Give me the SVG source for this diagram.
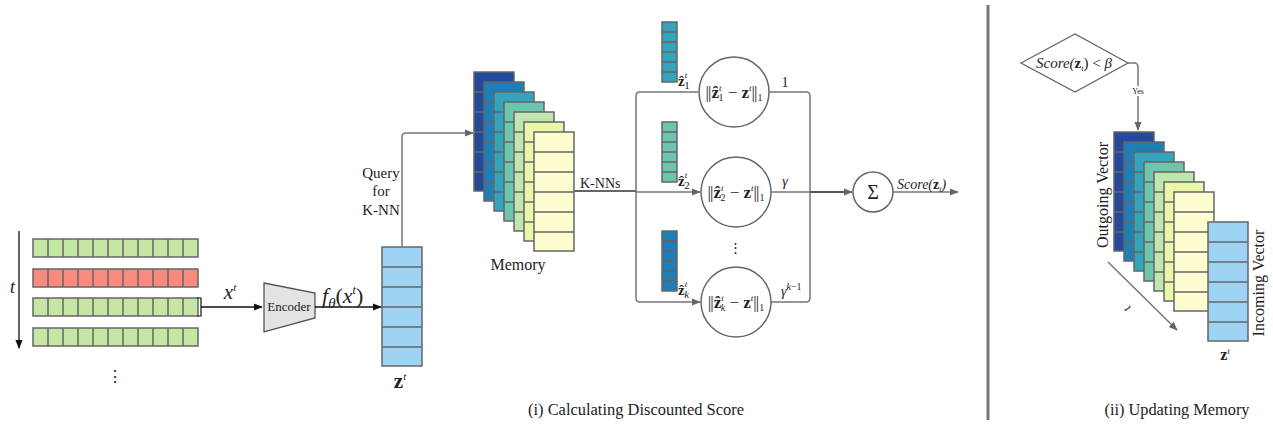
<svg xmlns="http://www.w3.org/2000/svg" width="1273" height="425" viewBox="0 0 1273 425" font-family="'Liberation Serif','DejaVu Serif',serif">
<style>
.cell{stroke:#666;stroke-width:1.5}
.g{fill:#c6e6a6}.r{fill:#f88b7d}.q{fill:#9dd3f3}
.c1{fill:#234b99}.c2{fill:#1e7fb7}.c3{fill:#34a4bd}.c4{fill:#6ec5ae}.c5{fill:#bfe5b1}.c6{fill:#ebf7a8}.c7{fill:#fefdd0}
.ln{fill:none;stroke:#777;stroke-width:1.5}
.bk{fill:none;stroke:#111;stroke-width:1.3}
.ser{font-family:"Liberation Serif","DejaVu Serif",serif;fill:#222}
.it{font-style:italic}
.bd{font-weight:bold}
.circ{fill:#fff;stroke:#666;stroke-width:1.5}
</style>
<defs>
<marker id="ag" viewBox="0 0 10 10" refX="9" refY="5" markerWidth="9" markerHeight="9" markerUnits="userSpaceOnUse" orient="auto"><path d="M0,1 L10,5 L0,9 z" fill="#666"/></marker>
<marker id="ab" viewBox="0 0 10 10" refX="9" refY="5" markerWidth="9" markerHeight="9" markerUnits="userSpaceOnUse" orient="auto"><path d="M0,1 L10,5 L0,9 z" fill="#111"/></marker>
<path id="rowlines" d="M0,0 h165 v18 h-165 z M15,0 v18 M30,0 v18 M45,0 v18 M60,0 v18 M75,0 v18 M90,0 v18 M105,0 v18 M120,0 v18 M135,0 v18 M150,0 v18" fill="none" stroke="#666" stroke-width="1.5"/>
<path id="veclines" d="M0,0 h40 v119 h-40 z M0,20 h40 M0,40 h40 M0,60 h40 M0,80 h40 M0,100 h40" fill="none" stroke="#666" stroke-width="1.5"/>
<path id="smalllines" d="M0,0 h15 v60 h-15 z M0,10 h15 M0,20 h15 M0,30 h15 M0,40 h15 M0,50 h15" fill="none" stroke="#666" stroke-width="1.5"/>
</defs>

<!-- time series -->
<g id="timeseries">
<path d="M19,231 V348" class="bk" marker-end="url(#ab)"/>
<text x="10" y="293" class="ser it" font-size="18">t</text>
<g id="row1" transform="translate(33,239)"><rect width="165" height="18" class="g"/><use href="#rowlines"/></g>
<g id="row2" transform="translate(33,269)"><rect width="165" height="18" class="r"/><use href="#rowlines"/></g>
<g id="row3" transform="translate(33,298)"><rect width="165" height="18" class="g"/><use href="#rowlines"/></g>
<g id="row4" transform="translate(33,328)"><rect width="165" height="18" class="g"/><use href="#rowlines"/></g>
<text x="115" y="382" class="ser" font-size="16" text-anchor="middle">⋮</text>
</g>

<!-- encoder -->
<g id="encoder">
<path d="M264,283 L315,293 L315,318 L264,332 Z" fill="#e3e3e3" stroke="#555" stroke-width="1.3"/>
<text x="289" y="311" class="ser" font-size="13" text-anchor="middle">Encoder</text>
</g>

<!-- query vector -->
<g id="query">
<g transform="translate(382,247)"><rect width="40" height="119" class="q"/><use href="#veclines"/></g>
<text x="400" y="388" class="ser bd" font-size="21" text-anchor="middle">z<tspan dy="-8" font-size="11" font-weight="normal" font-style="italic">t</tspan></text>
</g>

<!-- memory -->
<g id="memory">
<g transform="translate(474,72)"><rect width="40" height="119" class="c1"/><use href="#veclines"/></g>
<g transform="translate(484,82)"><rect width="40" height="119" class="c2"/><use href="#veclines"/></g>
<g transform="translate(494,92)"><rect width="40" height="119" class="c3"/><use href="#veclines"/></g>
<g transform="translate(504,102)"><rect width="40" height="119" class="c4"/><use href="#veclines"/></g>
<g transform="translate(514,112)"><rect width="40" height="119" class="c5"/><use href="#veclines"/></g>
<g transform="translate(524,122)"><rect width="40" height="119" class="c6"/><use href="#veclines"/></g>
<g transform="translate(534,132)"><rect width="40" height="119" class="c7"/><use href="#veclines"/></g>
<text x="518" y="270" class="ser" font-size="16" text-anchor="middle">Memory</text>
</g>

<!-- knn vectors -->
<g id="knn1">
<g transform="translate(662,22)"><rect width="15" height="60" class="c3"/><use href="#smalllines"/></g>
<text x="678" y="86" class="ser" font-size="15"><tspan class="bd">ẑ</tspan><tspan dy="-8" font-size="9" class="it">t</tspan><tspan dx="-3" dy="11" font-size="11">1</tspan></text>
</g>
<g id="knn2">
<g transform="translate(662,122)"><rect width="15" height="60" class="c4"/><use href="#smalllines"/></g>
<text x="678" y="186" class="ser" font-size="15"><tspan class="bd">ẑ</tspan><tspan dy="-8" font-size="9" class="it">t</tspan><tspan dx="-3" dy="11" font-size="11">2</tspan></text>
</g>
<g id="knnk">
<g transform="translate(662,231)"><rect width="15" height="60" class="c2"/><use href="#smalllines"/></g>
<text x="678" y="295" class="ser" font-size="15"><tspan class="bd">ẑ</tspan><tspan dy="-8" font-size="9" class="it">t</tspan><tspan dx="-3" dy="11" font-size="11" class="it">k</tspan></text>
</g>

<!-- distance nodes -->
<g id="dist1">
<circle cx="734" cy="92" r="35" class="circ"/>
<text x="734" y="98" class="ser" font-size="17" text-anchor="middle">|<tspan dx="-1">|</tspan><tspan class="bd">ẑ</tspan><tspan dy="-7" font-size="9" class="it">t</tspan><tspan dx="-3" dy="10" font-size="10">1</tspan><tspan dy="-3"> − </tspan><tspan class="bd">z</tspan><tspan dy="-7" font-size="9" class="it">t</tspan><tspan dy="7">|</tspan><tspan dx="-1">|</tspan><tspan dy="3" font-size="10">1</tspan></text>
</g>
<g id="dist2">
<circle cx="736" cy="192" r="35" class="circ"/>
<text x="736" y="198" class="ser" font-size="17" text-anchor="middle">|<tspan dx="-1">|</tspan><tspan class="bd">ẑ</tspan><tspan dy="-7" font-size="9" class="it">t</tspan><tspan dx="-3" dy="10" font-size="10">2</tspan><tspan dy="-3"> − </tspan><tspan class="bd">z</tspan><tspan dy="-7" font-size="9" class="it">t</tspan><tspan dy="7">|</tspan><tspan dx="-1">|</tspan><tspan dy="3" font-size="10">1</tspan></text>
</g>
<g id="distk">
<circle cx="736" cy="302" r="35" class="circ"/>
<text x="736" y="308" class="ser" font-size="17" text-anchor="middle">|<tspan dx="-1">|</tspan><tspan class="bd">ẑ</tspan><tspan dy="-7" font-size="9" class="it">t</tspan><tspan dx="-3" dy="10" font-size="10" class="it">k</tspan><tspan dy="-3"> − </tspan><tspan class="bd">z</tspan><tspan dy="-7" font-size="9" class="it">t</tspan><tspan dy="7">|</tspan><tspan dx="-1">|</tspan><tspan dy="3" font-size="10">1</tspan></text>
</g>
<text x="735" y="252" class="ser" font-size="13" text-anchor="middle">⋮</text>

<!-- sum node -->
<g id="sum">
<circle cx="873" cy="192" r="20" class="circ"/>
<text x="873" y="199" class="ser" font-size="20" text-anchor="middle">Σ</text>
</g>

<!-- connectors -->
<g id="connectors">
<path d="M197,298 h4 v18 h-4" fill="none" stroke="#111" stroke-width="1.2"/>
<path d="M201,307 H262" class="bk" marker-end="url(#ab)"/>
<path d="M315,307 H381" class="bk" marker-end="url(#ab)"/>
<path d="M402,247 V137 q0,-4 4,-4 H473" class="ln" marker-end="url(#ag)"/>
<path d="M574,191 H636" fill="none" stroke="#666" stroke-width="2"/>
<path d="M698,92 H640 q-4,0 -4,4 V298 q0,4 4,4 H700" class="ln" marker-end="url(#ag)"/>
<path d="M636,192 H700" class="ln" marker-end="url(#ag)"/>
<path d="M769,92 H806 q4,0 4,4 V298 q0,4 -4,4 H771" class="ln"/>
<path d="M771,192 H810" class="ln"/>
<path d="M810,192 H852" fill="none" stroke="#555" stroke-width="2" marker-end="url(#ag)"/>
<path d="M893,192 H958" class="ln" marker-end="url(#ag)"/>
<path d="M1128,63 H1134 q4,0 4,4 V130" class="ln" marker-end="url(#ag)"/>
<path d="M1108,262 L1177,330" class="ln" marker-end="url(#ag)"/>
</g>

<!-- connector labels -->
<g id="labels">
<text x="230" y="299" class="ser it" font-size="21" text-anchor="middle">x<tspan dy="-8" font-size="11">t</tspan></text>
<text x="322" y="303" class="ser it" font-size="22">f<tspan dy="5" font-size="15">θ</tspan><tspan dy="-5" font-style="normal">(</tspan>x<tspan dy="-9" font-size="12">t</tspan><tspan dy="9" font-style="normal">)</tspan></text>
<text x="381" y="178" class="ser" font-size="15" text-anchor="middle">Query</text>
<text x="381" y="196" class="ser" font-size="15" text-anchor="middle">for</text>
<text x="381" y="215" class="ser" font-size="15" text-anchor="middle">K-NN</text>
<text x="580" y="188" class="ser" font-size="14">K-NNs</text>
<text x="785" y="87" class="ser" font-size="14" text-anchor="middle">1</text>
<text x="785" y="186" class="ser it" font-size="14" text-anchor="middle">γ</text>
<text x="781" y="296" class="ser it" font-size="14">γ<tspan dy="-6" font-size="10">k</tspan><tspan font-size="10" font-style="normal">−1</tspan></text>
<text x="897" y="189" class="ser it" font-size="14">Score(<tspan class="bd" font-style="normal">z</tspan><tspan dy="3" font-size="8">t</tspan><tspan dy="-3">)</tspan></text>
</g>

<!-- separator -->
<line x1="988" y1="5" x2="988" y2="420" stroke="#777" stroke-width="3"/>

<!-- right panel -->
<g id="decision">
<path d="M1021,63 L1075,34 L1128,63 L1075,92 Z" fill="#fff" stroke="#666" stroke-width="1.3"/>
<text x="1074" y="68" class="ser it" font-size="15" text-anchor="middle">Score(<tspan class="bd" font-style="normal">z</tspan><tspan dy="3" font-size="8">t</tspan><tspan dy="-3" font-style="normal">) &lt; </tspan>β</text>
</g>
<rect x="1130" y="86" width="17" height="10" fill="#fff"/>
<text x="1138" y="94" class="ser" font-size="8" text-anchor="middle">Yes</text>

<g id="memory2">
<g transform="translate(1114,132)"><rect width="40" height="119" class="c1"/><use href="#veclines"/></g>
<g transform="translate(1124,142)"><rect width="40" height="119" class="c2"/><use href="#veclines"/></g>
<g transform="translate(1134,152)"><rect width="40" height="119" class="c3"/><use href="#veclines"/></g>
<g transform="translate(1144,162)"><rect width="40" height="119" class="c4"/><use href="#veclines"/></g>
<g transform="translate(1154,172)"><rect width="40" height="119" class="c5"/><use href="#veclines"/></g>
<g transform="translate(1164,182)"><rect width="40" height="119" class="c6"/><use href="#veclines"/></g>
<g transform="translate(1174,192)"><rect width="40" height="119" class="c7"/><use href="#veclines"/></g>
<text transform="translate(1108,195) rotate(-90)" class="ser" font-size="16" text-anchor="middle">Outgoing Vector</text>
</g>
<g id="incoming">
<g transform="translate(1208,222)"><rect width="40" height="119" class="q"/><use href="#veclines"/></g>
<text transform="translate(1264,283) rotate(-90)" class="ser" font-size="16" text-anchor="middle">Incoming Vector</text>
<text x="1225" y="360" class="ser bd" font-size="16" text-anchor="middle">z<tspan dy="-6" font-size="9" font-weight="normal" font-style="italic">t</tspan></text>
</g>
<text transform="translate(1130,306) rotate(-135)" class="ser it" font-size="13" text-anchor="middle">t</text>

<!-- captions -->
<text x="636" y="415" class="ser" font-size="16" text-anchor="middle" textLength="216" lengthAdjust="spacingAndGlyphs">(i) Calculating Discounted Score</text>
<text x="1177" y="415" class="ser" font-size="16" text-anchor="middle" textLength="145" lengthAdjust="spacingAndGlyphs">(ii) Updating Memory</text>
</svg>
